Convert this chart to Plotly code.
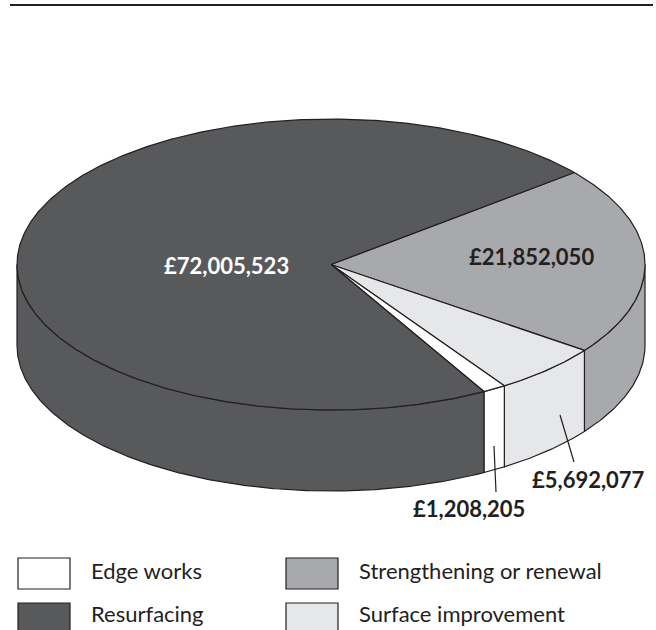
import numpy as np
import plotly.graph_objects as go

categories = ["Strengthening or renewal", "Surface improvement", "Edge works", "Resurfacing"]
values = [21852050, 5692077, 1208205, 72005523]
colors = ["#a7a9ac", "#e6e7e8", "#ffffff", "#58595b"]
value_labels = ["£21,852,050", "£5,692,077", "£1,208,205", "£72,005,523"]

WIDTH, HEIGHT = 656, 630
CX, CY, RX, RY, DEPTH = 331, 264.5, 314, 145.5, 81
START_DEG = 39.2
WARP_DEG = 2.75  # slight perspective foreshortening of the tilted disc
INK = "#231f20"
FONT = "Lato"
LW = 1.2

fig = go.Figure()


def project(deg, drop=0.0):
    rad = np.radians(deg)
    return CX + RX * np.cos(rad), CY - RY * np.sin(rad) + drop


def arc(a, b):
    n = max(int(abs(a - b) * 2), 2)
    return np.linspace(a, b, n)


total = sum(values)
cum = np.cumsum([0] + values) / total * 360
edges = [START_DEG - t + WARP_DEG * np.sin(np.radians(t)) for t in cum]

# side walls (front half only: screen angles between 0 and -180)
for i, cat in enumerate(categories):
    a, b = min(edges[i], 0), max(edges[i + 1], -180)
    if a <= b:
        continue
    t = arc(a, b)
    xt, yt = project(t)
    xb, yb = project(t[::-1], DEPTH)
    fig.add_trace(go.Scatter(
        x=np.r_[xt, xb, xt[0]], y=np.r_[yt, yb, yt[0]], mode="lines", fill="toself",
        fillcolor=colors[i], line=dict(color=INK, width=LW), name=cat, hoverinfo="name"))

# top face
for i, cat in enumerate(categories):
    t = arc(edges[i], edges[i + 1])
    xa, ya = project(t)
    fig.add_trace(go.Scatter(
        x=np.r_[CX, xa, CX], y=np.r_[CY, ya, CY], mode="lines", fill="toself",
        fillcolor=colors[i], line=dict(color=INK, width=LW), name=cat, hoverinfo="name"))

# leader lines
for x0, y0, x1, y1 in [(560, 415, 574, 462), (494, 446, 496, 492)]:
    fig.add_shape(type="line", x0=x0, y0=y0, x1=x1, y1=y1, line=dict(color=INK, width=LW))

# top rule
fig.add_shape(type="line", x0=10, x1=653, y0=5, y1=5, line=dict(color=INK, width=2))

# value labels
label_pos = [(531.5, 256, INK), (588, 479.5, INK), (469, 508.5, INK), (226.5, 265, "#ffffff")]
for text, (x, y, c) in zip(value_labels, label_pos):
    fig.add_annotation(x=x, y=y, text=f"<b>{text}</b>", showarrow=False, xanchor="center",
                       yanchor="middle", font=dict(family=FONT, size=22, color=c))

# legend
legend_pos = [(286, 558, 570), (286, 603, 613), (18, 558, 570), (18, 603, 613)]
for i, (cat, (x, y, ty)) in enumerate(zip(categories, legend_pos)):
    fig.add_shape(type="rect", x0=x, x1=x + 52, y0=y, y1=y + 31, fillcolor=colors[i],
                  line=dict(color=INK, width=LW))
    fig.add_annotation(x=x + 71, y=ty, text=cat, showarrow=False, xanchor="left",
                       yanchor="middle", font=dict(family=FONT, size=22, color=INK))

fig.update_layout(
    width=WIDTH, height=HEIGHT,
    margin=dict(l=0, r=0, t=0, b=0), showlegend=False,
    paper_bgcolor="white", plot_bgcolor="white",
    xaxis=dict(range=[0, WIDTH], visible=False, fixedrange=True),
    yaxis=dict(range=[HEIGHT, 0], visible=False, fixedrange=True),
)
fig.write_html("out.html", config={"displayModeBar": False},
               post_script="document.body.style.margin='0';document.body.style.overflow='hidden';")
